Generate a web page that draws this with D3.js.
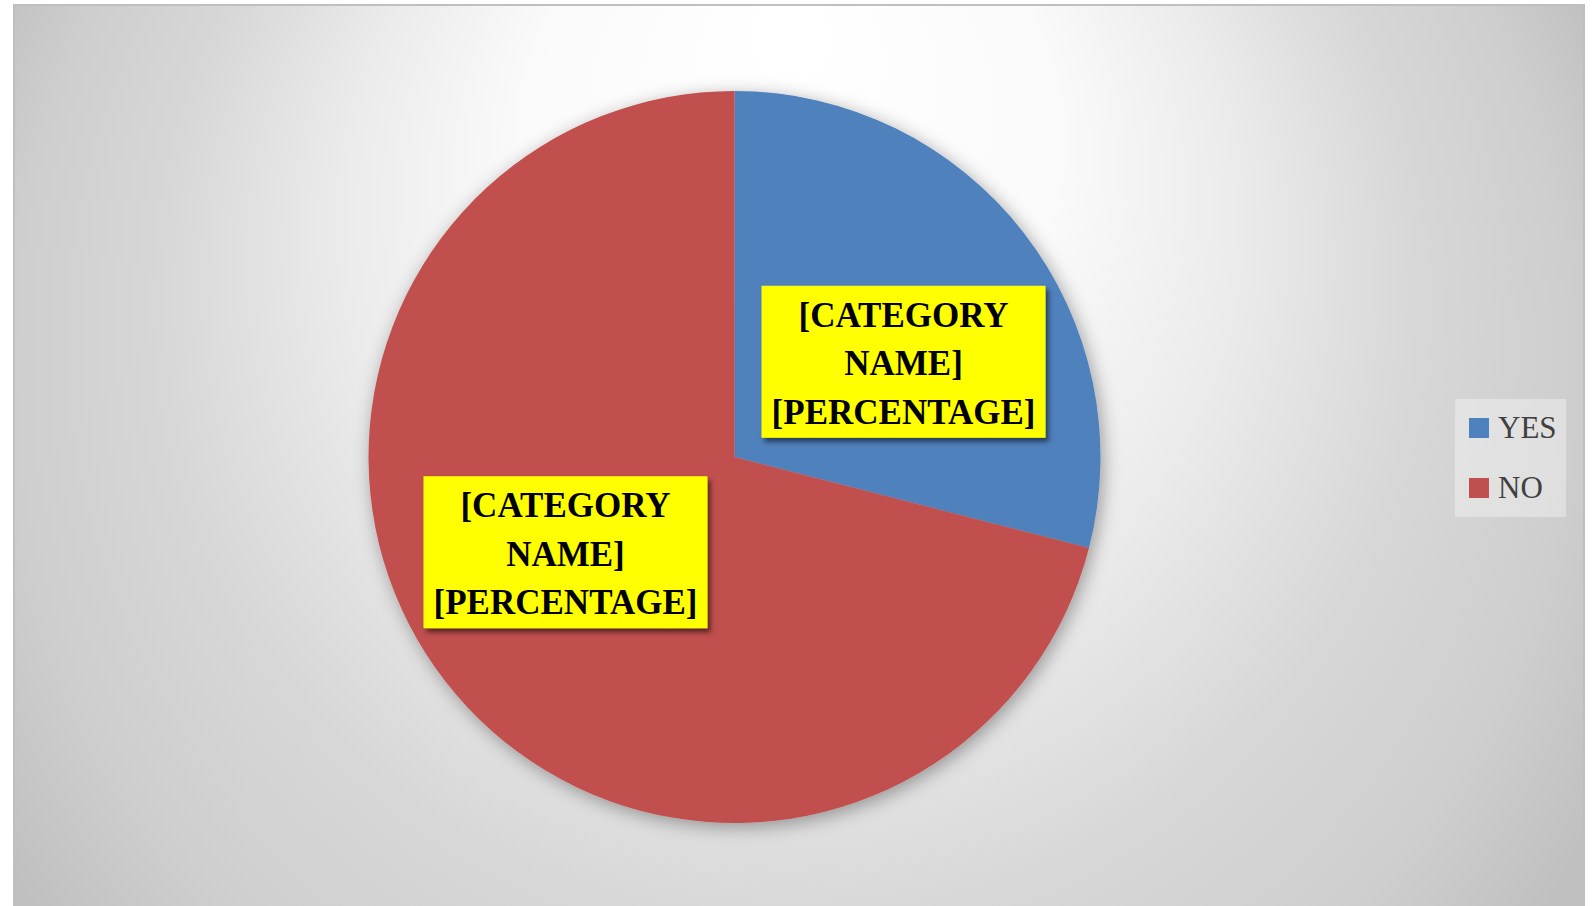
<!DOCTYPE html>
<html>
<head>
<meta charset="utf-8">
<script src="https://cdn.jsdelivr.net/npm/d3@7"></script>
<style>
  body { margin: 0; background: #ffffff; }
  svg { display: block; }
</style>
</head>
<body>
<div id="chart"></div>
<script>
const categories = ["YES", "NO"];
const values = [29, 71];
const colors = ["#4f81bd", "#c0504d"];
const labelLines = ["[CATEGORY", "NAME]", "[PERCENTAGE]"];

const width = 1593, height = 906;
const cx = 734.5, cy = 457, radius = 366;

const svg = d3.select("#chart")
  .append("svg")
    .attr("width", width)
    .attr("height", height);

const defs = svg.append("defs");

// background: white spot at the top centre, greying out towards the edges
const bg = defs.append("radialGradient")
    .attr("id", "bg")
    .attr("gradientUnits", "userSpaceOnUse")
    .attr("cx", 790).attr("cy", 420).attr("r", 900)
    .attr("fx", 790).attr("fy", 20);
[[0, "#ffffff"], [0.3, "#fafafa"], [0.5, "#ebebeb"], [0.7, "#d7d7d7"], [0.87, "#cecece"], [1, "#c0c0c0"]]
  .forEach(s => bg.append("stop").attr("offset", s[0]).attr("stop-color", s[1]));

const pieShadow = defs.append("filter").attr("id", "pieShadow")
    .attr("x", "-20%").attr("y", "-20%").attr("width", "140%").attr("height", "140%");
pieShadow.append("feDropShadow")
    .attr("dx", 3).attr("dy", 4).attr("stdDeviation", 9)
    .attr("flood-color", "#000").attr("flood-opacity", 0.35);

const boxShadow = defs.append("filter").attr("id", "boxShadow")
    .attr("x", "-10%").attr("y", "-10%").attr("width", "120%").attr("height", "130%");
boxShadow.append("feDropShadow")
    .attr("dx", 3).attr("dy", 4).attr("stdDeviation", 2.5)
    .attr("flood-color", "#000").attr("flood-opacity", 0.55);

// chart area
svg.append("rect")
    .attr("x", 14).attr("y", 5)
    .attr("width", 1570).attr("height", 905)
    .attr("fill", "url(#bg)")
    .attr("stroke", "#bfbfbf")
    .attr("stroke-width", 2);

const pie = d3.pie().sort(null).value(d => d)(values);
const arc = d3.arc().innerRadius(0).outerRadius(radius);

const g = svg.append("g").attr("transform", `translate(${cx},${cy})`);

g.append("g")
    .attr("filter", "url(#pieShadow)")
  .selectAll("path")
  .data(pie)
  .join("path")
    .attr("d", arc)
    .attr("fill", (d, i) => colors[i]);

// data labels (boxes sit a little clockwise of mid-angle, like the original)
const labelArc = d3.arc().innerRadius(194).outerRadius(194);
const labelShift = 8.4 * Math.PI / 180;
const boxW = 284, boxH = 152;

const labels = g.selectAll("g.lab")
  .data(pie)
  .join("g")
    .attr("class", "lab")
    .attr("transform", d => {
      const c = labelArc.centroid({startAngle: d.startAngle + labelShift, endAngle: d.endAngle + labelShift});
      return `translate(${c[0]},${c[1]})`;
    });

labels.append("rect")
    .attr("x", -boxW / 2).attr("y", -boxH / 2)
    .attr("width", boxW).attr("height", boxH)
    .attr("fill", "#ffff00")
    .attr("filter", "url(#boxShadow)");

labels.append("text")
    .attr("text-anchor", "middle")
    .attr("font-family", "'Liberation Serif', 'DejaVu Serif', serif")
    .attr("font-weight", "bold")
    .attr("font-size", 35)
    .attr("fill", "#000")
  .selectAll("tspan")
  .data(labelLines)
  .join("tspan")
    .attr("x", 0)
    .attr("y", (d, i) => -35 + i * 48.5)
    .text(d => d);

// legend
const legend = svg.append("g").attr("transform", "translate(1455,399)");
legend.append("rect")
    .attr("width", 111).attr("height", 118)
    .attr("fill", "#ffffff").attr("fill-opacity", 0.35);

const items = legend.selectAll("g.item")
  .data(categories)
  .join("g")
    .attr("class", "item")
    .attr("transform", (d, i) => `translate(14,${19 + i * 60})`);
items.append("rect")
    .attr("width", 20).attr("height", 20)
    .attr("fill", (d, i) => colors[i]);
items.append("text")
    .attr("x", 29).attr("y", 20)
    .attr("font-family", "'Liberation Serif', serif")
    .attr("font-size", 31)
    .attr("fill", "#404040")
    .text(d => d);
</script>
</body>
</html>
